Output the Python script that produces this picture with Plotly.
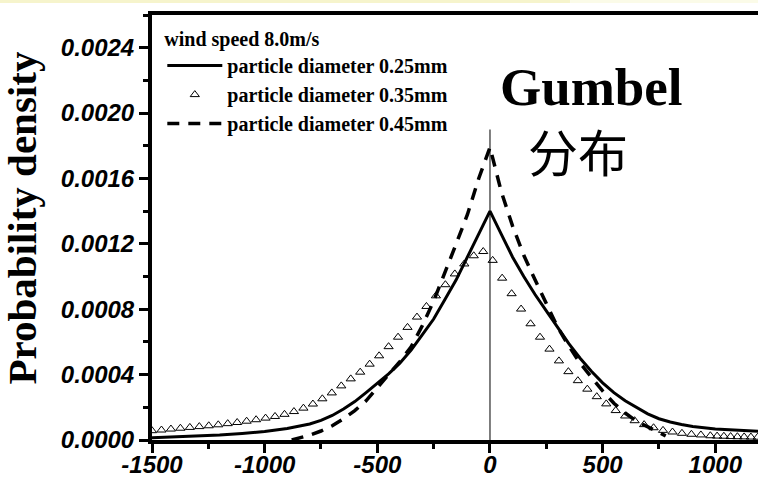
import plotly.graph_objects as go

# ---------------- data ----------------
solid_x = [-1500, -1400, -1300, -1200, -1100, -1000, -900, -800, -750, -700, -650, -600,
           -550, -500, -450, -400, -350, -300, -250, -200, -150, -100, -50, 0,
           50, 100, 150, 200, 250, 300, 350, 400, 450, 500, 550, 600, 650, 700,
           750, 800, 850, 900, 1000, 1100, 1200]
solid_y = [1.4e-5, 1.9e-5, 2.5e-5, 3.1e-5, 4.0e-5, 5.2e-5, 7.0e-5, 9.8e-5, 1.2e-4, 1.5e-4, 1.9e-4, 2.35e-4,
           2.9e-4, 3.45e-4, 4.05e-4, 4.7e-4, 5.5e-4, 6.45e-4, 7.4e-4, 8.6e-4, 9.8e-4, 1.12e-3, 1.26e-3, 1.40e-3,
           1.26e-3, 1.12e-3, 1.0e-3, 8.9e-4, 7.9e-4, 6.9e-4, 5.9e-4, 5.0e-4, 4.2e-4, 3.5e-4, 2.9e-4, 2.4e-4, 2.0e-4, 1.6e-4,
           1.3e-4, 1.1e-4, 9.5e-5, 8.3e-5, 6.7e-5, 5.8e-5, 5.2e-5]

tri_x = [-1500, -1458, -1416, -1374, -1332, -1290, -1248, -1206, -1164, -1122,
         -1080, -1038, -996, -954, -912, -870, -828, -786, -744, -702,
         -660, -618, -576, -534, -492, -450, -408, -366, -324, -282,
         -240, -198, -156, -114, -72, -30, 12, 54, 96, 138,
         180, 222, 264, 306, 348, 390, 432, 474, 516, 558,
         600, 642, 684, 726, 768, 810, 852, 894, 936, 978,
         1008, 1038, 1068, 1098, 1128, 1158, 1188]
tri_y = [5.7e-5, 6.1e-5, 6.7e-5, 7.2e-5, 7.7e-5, 8.2e-5, 8.7e-5, 9.3e-5, 1.0e-4, 1.07e-4,
         1.15e-4, 1.24e-4, 1.34e-4, 1.44e-4, 1.57e-4, 1.74e-4, 1.95e-4, 2.2e-4, 2.52e-4, 2.88e-4,
         3.31e-4, 3.74e-4, 4.15e-4, 4.64e-4, 5.15e-4, 5.71e-4, 6.29e-4, 6.89e-4, 7.52e-4, 8.17e-4,
         8.82e-4, 9.5e-4, 1.016e-3, 1.077e-3, 1.127e-3, 1.153e-3, 1.099e-3, 9.9e-4, 8.95e-4, 8.01e-4,
         7.11e-4, 6.29e-4, 5.56e-4, 4.84e-4, 4.18e-4, 3.63e-4, 3.11e-4, 2.65e-4, 2.21e-4, 1.8e-4,
         1.47e-4, 1.18e-4, 9.4e-5, 7.5e-5, 5.9e-5, 4.9e-5, 4.1e-5, 3.5e-5, 3.1e-5, 2.6e-5,
         2.4e-5, 2.3e-5, 2.1e-5, 2.0e-5, 1.9e-5, 1.8e-5, 1.7e-5]

dash_x = [-880, -850, -800, -750, -700, -650, -600, -550, -500, -450, -400, -350, -300,
          -250, -200, -150, -100, -50, 0, 50, 100, 150, 200, 250, 300, 350, 400,
          450, 500, 550, 600, 650, 700, 750, 780]
dash_y = [0.0, 1.0e-5, 3.0e-5, 5.5e-5, 8.7e-5, 1.3e-4, 1.8e-4, 2.4e-4, 3.2e-4, 4.0e-4, 4.8e-4, 5.7e-4, 7.0e-4,
          8.5e-4, 1.02e-3, 1.2e-3, 1.38e-3, 1.6e-3, 1.79e-3, 1.52e-3, 1.31e-3, 1.13e-3, 9.8e-4, 8.3e-4, 6.9e-4, 5.75e-4, 4.7e-4,
          3.85e-4, 3.0e-4, 2.25e-4, 1.65e-4, 1.15e-4, 8.0e-5, 4.5e-5, 2.5e-5]

names = ["particle diameter 0.25mm", "particle diameter 0.35mm", "particle diameter 0.45mm"]
legend_title = "wind speed 8.0m/s"
x_tickvals = [-1500, -1000, -500, 0, 500, 1000]
x_ticktext = ["-1500", "-1000", "-500", "0", "500", "1000"]
y_tickvals = [0.0, 0.0004, 0.0008, 0.0012, 0.0016, 0.0020, 0.0024]
y_ticktext = ["0.0000", "0.0004", "0.0008", "0.0012", "0.0016", "0.0020", "0.0024"]
y_title = "Probability density"
big_text = "Gumbel"
cjk_text = "分布"

# ---------------- figure ----------------
fig = go.Figure()
fig.add_trace(go.Scatter(x=solid_x, y=solid_y, mode="lines", name=names[0],
                         line=dict(color="black", width=3)))
fig.add_trace(go.Scatter(x=tri_x, y=tri_y, mode="markers", name=names[1],
                         marker=dict(symbol="triangle-up-open", size=8, color="black",
                                     line=dict(width=1, color="black"))))
fig.add_trace(go.Scatter(x=dash_x, y=dash_y, mode="lines", name=names[2],
                         line=dict(color="black", width=3.5, dash="12px,9px")))

tick_font = dict(family="Liberation Sans", size=24, color="black", weight="bold", style="italic")

fig.update_layout(
    width=758, height=479,
    margin=dict(l=152, r=0, t=15, b=39, pad=0, autoexpand=False),
    paper_bgcolor="white", plot_bgcolor="white",
    showlegend=True,
    legend=dict(x=0.017, y=0.988, xanchor="left", yanchor="top",
                bgcolor="rgba(255,255,255,0)", itemwidth=55, tracegroupgap=0,
                font=dict(family="Liberation Serif", size=20, color="black", weight="bold"),
                title=dict(text=legend_title,
                           font=dict(family="Liberation Serif", size=20, color="black", weight="bold"))),
    xaxis=dict(range=[-1500, 1189.5], showline=True, linewidth=4, linecolor="black", mirror=True,
               automargin=False,
               ticks="outside", ticklen=9, tickwidth=3, tickcolor="black",
               tickvals=x_tickvals, ticktext=x_ticktext, tickfont=tick_font,
               ticklabelstandoff=-9,
               minor=dict(dtick=250, tick0=0, ticks="outside", ticklen=5, tickwidth=3, tickcolor="black"),
               showgrid=False, zeroline=False),
    yaxis=dict(range=[0, 0.0026], showline=True, linewidth=4, linecolor="black",
               automargin=False,
               ticks="outside", ticklen=9, tickwidth=3, tickcolor="black",
               tickvals=y_tickvals, ticktext=y_ticktext, tickfont=tick_font,
               minor=dict(dtick=0.0002, tick0=0, ticks="outside", ticklen=5, tickwidth=3, tickcolor="black"),
               showgrid=False, zeroline=False),
)

# vertical reference line at x=0
fig.add_shape(type="line", xref="x", yref="y", x0=0, x1=0, y0=0, y1=0.0019,
              line=dict(color="#555555", width=1.5), layer="below")

# pale yellow slide band at the very top
fig.add_shape(type="rect", xref="paper", yref="paper", x0=-0.2508, x1=0.69, y0=1.0282, y1=1.0353,
              fillcolor="#f6f4cc", line=dict(width=0), layer="below")
fig.add_shape(type="rect", xref="paper", yref="paper", x0=0.69, x1=1.0, y0=1.0282, y1=1.0353,
              fillcolor="#fbfbe8", line=dict(width=0), layer="below")

fig.add_annotation(text=y_title, xref="paper", yref="paper", x=-0.2145, y=0.521,
                   textangle=-90, showarrow=False, xanchor="center", yanchor="middle",
                   font=dict(family="Liberation Serif", size=41, color="black", weight="bold"))
fig.add_annotation(text=big_text, xref="paper", yref="paper", x=0.726, y=0.8306,
                   showarrow=False, xanchor="center", yanchor="middle",
                   font=dict(family="Liberation Serif", size=53, color="black", weight="bold"))
fig.add_annotation(text=cjk_text, xref="paper", yref="paper", x=0.703, y=0.682,
                   showarrow=False, xanchor="center", yanchor="middle",
                   font=dict(family="Noto Sans CJK SC", size=50, color="black"))

fig.write_html("out.html")
